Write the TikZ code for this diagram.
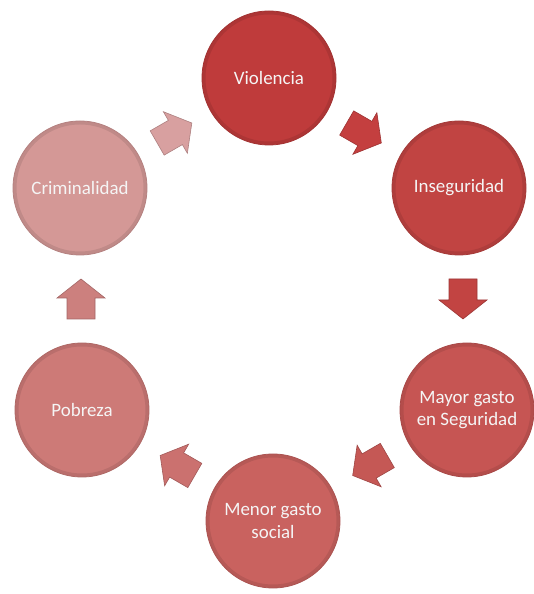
\documentclass[tikz,border=0pt]{standalone}
\usepackage{fontspec}
\setmainfont{Carlito}
\usetikzlibrary{calc}
\definecolor{cV}{HTML}{BF3B3B}
\definecolor{cI}{HTML}{C14442}
\definecolor{cM}{HTML}{C65553}
\definecolor{cS}{HTML}{C9625F}
\definecolor{cP}{HTML}{CD7A77}
\definecolor{cC}{HTML}{D49896}
\definecolor{a1}{HTML}{C43F3F}
\definecolor{a2}{HTML}{C24442}
\definecolor{a3}{HTML}{C55855}
\definecolor{a4}{HTML}{CB716F}
\definecolor{a5}{HTML}{CC807E}
\definecolor{a6}{HTML}{D8A0A0}
\begin{document}
\begin{tikzpicture}[x=1bp,y=1bp,
  stage/.style={circle, minimum size=134bp, inner sep=0pt, text=white!96!black,
    align=center, font=\fontsize{19}{22.5}\selectfont,
    fill=#1, draw=#1!85!black, line width=0.8bp,
    path picture={\draw[black, opacity=0.09, line width=7bp] (path picture bounding box.center) circle (67bp);}},
  blockarrow/.pic={\path[pic actions] (-20,-14) -- (1,-14) -- (1,-24) -- (20,0) -- (1,24) -- (1,14) -- (-20,14) -- cycle;},
  arr/.style={fill=#1, draw=#1!80!black, line width=0.6bp, line join=miter}]
\useasboundingbox (0,0) rectangle (534,594);
\node[stage=cV] (vio) at (269,516) {Violencia};
\node[stage=cI] (ins) at (459,406) {Inseguridad};
\node[stage=cM] (may) at (467,184) {Mayor gasto\\en Seguridad};
\node[stage=cS] (men) at (273,73) {Menor gasto\\social};
\node[stage=cP] (pob) at (82,184) {Pobreza};
\node[stage=cC] (cri) at (80,406) {Criminalidad};
\pic[arr=a1, rotate=-30] at ($(vio)!0.5!(ins)$) {blockarrow};
\pic[arr=a2, rotate=-90] at ($(ins)!0.5!(may)$) {blockarrow};
\pic[arr=a3, rotate=210] at ($(may)!0.5!(men)$) {blockarrow};
\pic[arr=a4, rotate=150] at ($(men)!0.5!(pob)$) {blockarrow};
\pic[arr=a5, rotate=90] at ($(pob)!0.5!(cri)$) {blockarrow};
\pic[arr=a6, rotate=30] at ($(cri)!0.5!(vio)$) {blockarrow};
\end{tikzpicture}
\end{document}
